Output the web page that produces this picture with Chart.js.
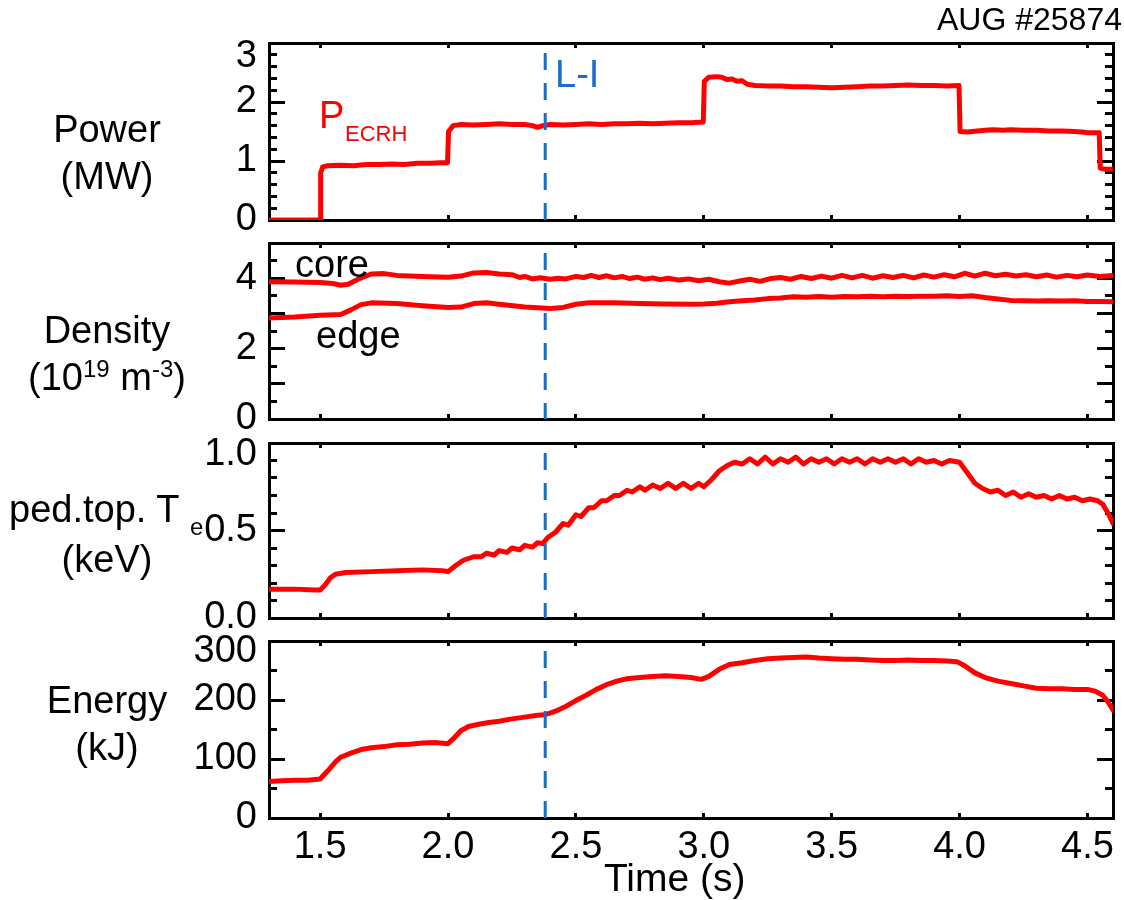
<!DOCTYPE html>
<html>
<head>
<meta charset="utf-8">
<script src="https://cdn.jsdelivr.net/npm/chart.js@4.4.1/dist/chart.umd.min.js"></script>
<style>
  html, body { margin: 0; padding: 0; background: #ffffff; }
  #page { position: relative; width: 1124px; height: 900px; overflow: hidden; background: #ffffff;
          font-family: 'Liberation Sans', Arial, Helvetica, sans-serif; color: #000; }
  canvas { position: absolute; left: 0; }
  .t { position: absolute; white-space: nowrap; line-height: 1; }
  .ctr { left: 0; width: 214px; text-align: center; }
  .sup { position: relative; top: -13px; font-size: 24px; }
</style>
</head>
<body>
<div id="page">
  <canvas id="c1" width="1124" height="240" style="top:0px"></canvas>
  <canvas id="c2" width="1124" height="210" style="top:225px"></canvas>
  <canvas id="c3" width="1124" height="210" style="top:425px"></canvas>
  <canvas id="c4" width="1124" height="278" style="top:622px"></canvas>

  <div class="t" style="right:2px; top:3px; font-size:32px;">AUG #25874</div>
  <div class="t" style="left:555px; top:55px; font-size:38px; color:#1a6ec8;">L-I</div>
  <div class="t" style="left:319px; top:96px; font-size:38px; color:#ff0000;">P</div>
  <div class="t" style="left:345px; top:123px; font-size:22px; color:#ff0000;">ECRH</div>
  <div class="t" style="left:295px; top:245px; font-size:38px;">core</div>
  <div class="t" style="left:316px; top:316px; font-size:38px;">edge</div>

  <div class="t ctr" style="top:110px; font-size:38px;">Power</div>
  <div class="t ctr" style="top:157px; font-size:38px;">(MW)</div>
  <div class="t ctr" style="top:311px; font-size:38px;">Density</div>
  <div class="t ctr" style="top:358px; font-size:38px;">(10<span class="sup">19</span> m<span class="sup">-3</span>)</div>
  <div class="t" style="left:9px; top:490px; font-size:38px;">ped.top. T</div>
  <div class="t" style="left:190px; top:515px; font-size:24px;">e</div>
  <div class="t ctr" style="top:540px; font-size:38px;">(keV)</div>
  <div class="t ctr" style="top:681px; font-size:38px;">Energy</div>
  <div class="t ctr" style="top:728px; font-size:38px;">(kJ)</div>
</div>
<script>
// ---------------- data ----------------
const xMin = 1.3, xMax = 4.6;
const xTickStep = 0.5;
const transitionTime = 2.38;   // L-I transition (s)

const powerTime = [1.30,1.50,1.502,1.51,1.53,1.58,1.63,1.68,1.73,1.78,1.83,1.88,1.93,1.97,1.998,
  2.002,2.02,2.05,2.10,2.15,2.20,2.25,2.30,2.33,2.35,2.37,2.40,2.45,2.50,2.55,2.60,2.65,2.70,2.75,2.80,
  2.85,2.90,2.95,2.998,3.002,3.02,3.05,3.07,3.09,3.11,3.13,3.15,3.17,3.20,3.25,3.30,3.35,3.40,3.45,3.50,
  3.55,3.60,3.65,3.70,3.75,3.80,3.85,3.90,3.95,3.998,4.002,4.03,4.07,4.10,4.13,4.17,4.20,4.25,4.30,4.35,
  4.40,4.45,4.48,4.50,4.546,4.550,4.57,4.60];
const powerMW = [0.00,0.00,0.80,0.90,0.92,0.93,0.92,0.94,0.94,0.95,0.94,0.96,0.96,0.97,0.97,
  1.50,1.60,1.62,1.61,1.62,1.63,1.62,1.62,1.60,1.57,1.60,1.62,1.61,1.62,1.63,1.62,1.63,1.63,1.64,1.63,
  1.64,1.65,1.65,1.66,2.35,2.42,2.43,2.42,2.38,2.39,2.35,2.36,2.30,2.28,2.27,2.27,2.26,2.26,2.25,2.24,
  2.25,2.26,2.27,2.27,2.28,2.29,2.28,2.28,2.27,2.28,1.50,1.49,1.51,1.52,1.53,1.52,1.53,1.52,1.52,1.51,
  1.51,1.50,1.49,1.48,1.48,0.88,0.86,0.86];

const coreTime = [1.30,1.40,1.50,1.55,1.58,1.61,1.65,1.70,1.75,1.80,1.90,2.00,2.05,2.10,2.15,2.20,2.25,2.28,
  2.30,2.33,2.36,2.40,2.43,2.46,2.50,2.53,2.56,2.59,2.62,2.65,2.68,2.71,2.74,2.77,2.80,2.83,2.86,2.90,2.94,
  2.98,3.02,3.06,3.10,3.14,3.18,3.22,3.26,3.30,3.34,3.38,3.42,3.46,3.50,3.54,3.58,3.62,3.66,3.70,3.74,3.78,
  3.82,3.86,3.90,3.94,3.98,4.02,4.06,4.10,4.14,4.18,4.22,4.26,4.30,4.34,4.38,4.42,4.46,4.50,4.55,4.60];
const coreDensity = [3.90,3.89,3.88,3.85,3.80,3.83,3.98,4.12,4.13,4.08,4.05,4.03,4.06,4.15,4.16,4.12,4.10,4.02,
  4.05,3.98,4.01,3.97,4.00,3.98,4.05,4.02,4.08,4.02,4.07,4.01,4.05,3.99,4.03,3.97,4.01,3.96,4.00,3.95,3.98,
  3.93,3.97,3.90,3.86,3.92,3.97,3.91,3.99,4.02,3.97,4.05,3.99,4.06,4.00,4.08,4.01,4.08,4.00,4.07,4.02,4.08,
  4.01,4.09,4.03,4.10,4.04,4.14,4.06,4.14,4.07,4.11,4.06,4.10,4.04,4.09,4.03,4.08,4.04,4.09,4.05,4.08];

const edgeTime = [1.30,1.40,1.50,1.58,1.62,1.66,1.70,1.80,1.90,2.00,2.05,2.10,2.15,2.20,2.30,2.40,2.45,2.50,
  2.55,2.65,2.75,2.85,2.95,3.00,3.05,3.10,3.15,3.20,3.25,3.30,3.35,3.40,3.45,3.50,3.55,3.60,3.65,3.70,3.75,
  3.80,3.85,3.90,3.95,4.00,4.05,4.10,4.15,4.20,4.25,4.30,4.35,4.40,4.45,4.50,4.55,4.60];
const edgeDensity = [2.87,2.90,2.95,2.97,3.10,3.25,3.30,3.28,3.22,3.17,3.18,3.28,3.30,3.26,3.18,3.14,3.17,3.26,
  3.30,3.30,3.28,3.27,3.26,3.27,3.29,3.33,3.36,3.38,3.42,3.44,3.47,3.46,3.48,3.46,3.48,3.47,3.49,3.47,3.49,
  3.48,3.49,3.49,3.50,3.48,3.50,3.45,3.41,3.37,3.36,3.35,3.36,3.35,3.36,3.34,3.34,3.33];

const teTime = [1.30,1.40,1.48,1.50,1.52,1.54,1.56,1.60,1.70,1.80,1.90,1.98,2.00,2.03,2.06,2.10,2.13,2.15,2.18,
  2.20,2.23,2.25,2.28,2.30,2.33,2.35,2.37,2.39,2.42,2.45,2.47,2.50,2.52,2.55,2.57,2.60,2.62,2.65,2.67,2.70,
  2.72,2.75,2.77,2.80,2.83,2.86,2.89,2.92,2.95,2.98,3.00,3.03,3.06,3.09,3.12,3.15,3.18,3.21,3.24,3.27,3.30,
  3.33,3.36,3.39,3.42,3.45,3.48,3.51,3.54,3.57,3.60,3.63,3.66,3.69,3.72,3.75,3.78,3.81,3.84,3.87,3.90,3.93,
  3.96,4.00,4.03,4.06,4.09,4.12,4.15,4.18,4.21,4.24,4.27,4.30,4.33,4.36,4.39,4.42,4.45,4.48,4.51,4.54,4.56,
  4.58,4.60];
const teKeV = [0.165,0.165,0.16,0.16,0.19,0.23,0.25,0.26,0.265,0.27,0.275,0.27,0.265,0.30,0.33,0.35,0.35,0.37,0.36,
  0.385,0.375,0.40,0.39,0.415,0.405,0.43,0.425,0.46,0.49,0.54,0.53,0.59,0.58,0.63,0.63,0.67,0.67,0.70,0.70,0.73,
  0.72,0.75,0.73,0.76,0.74,0.77,0.74,0.77,0.74,0.77,0.75,0.79,0.84,0.87,0.89,0.88,0.91,0.88,0.92,0.88,0.91,
  0.89,0.92,0.88,0.91,0.89,0.91,0.88,0.91,0.89,0.91,0.88,0.91,0.89,0.91,0.89,0.91,0.88,0.91,0.89,0.90,0.88,
  0.90,0.89,0.83,0.77,0.74,0.72,0.73,0.70,0.72,0.69,0.71,0.69,0.70,0.68,0.70,0.68,0.69,0.67,0.68,0.67,0.65,
  0.60,0.54];

const energyTime = [1.30,1.35,1.40,1.45,1.50,1.53,1.56,1.58,1.62,1.66,1.70,1.75,1.80,1.85,1.90,1.95,2.00,2.02,
  2.05,2.08,2.12,2.16,2.20,2.25,2.30,2.35,2.38,2.42,2.46,2.50,2.54,2.58,2.62,2.66,2.70,2.75,2.80,2.85,2.90,
  2.95,2.99,3.02,3.06,3.10,3.15,3.20,3.25,3.30,3.35,3.40,3.45,3.50,3.55,3.60,3.65,3.70,3.75,3.80,3.85,3.90,
  3.95,3.99,4.02,4.06,4.10,4.15,4.20,4.25,4.30,4.35,4.40,4.45,4.50,4.53,4.56,4.58,4.60];
const energyKJ = [62,63,64,64,66,80,95,103,110,116,119,121,124,125,127,128,126,134,
  148,155,159,162,164,168,171,174,175,181,189,199,208,218,226,232,236,238,240,241,240,
  238,235,240,252,260,263,267,270,271,272,273,271,270,269,269,268,267,267,268,267,267,
  266,265,258,246,238,232,228,224,220,219,219,218,218,215,208,197,183];

// tick label texts per panel
const powerTickLabels  = {0:'0', 1:'1', 2:'2', 3:'3'};
const densityTickLabels = {0:'0', 2:'2', 4:'4'};
const teTickLabels     = {0:'0.0', 0.5:'0.5', 1:'1.0'};
const energyTickLabels = {0:'0', 100:'100', 200:'200', 300:'300'};

// ---------------- drawing ----------------
const FONT = "'Liberation Sans', Arial, Helvetica, sans-serif";
const RED = '#ff0000';
const BLUE = '#1a6ec8';

function toPoints(ts, vs) {
  const n = Math.min(ts.length, vs.length);
  const out = [];
  for (let i = 0; i < n; i++) out.push({ x: ts[i], y: vs[i] });
  return out;
}
const tickMarks = (len) => ({ drawOnChartArea: false, drawTicks: true, tickLength: len, tickWidth: 3, tickColor: '#000' });
const frame = { display: true, color: '#000', width: 3 };
const noFrame = { display: false };

function labelFor(map, v) {
  for (const k in map) { if (Math.abs(Number(k) - v) < 1e-9) return map[k]; }
  return '';
}
function fitV(width) {
  return (s) => { s.width = width; s.paddingTop = 0; s.paddingBottom = 0; s.paddingLeft = 0; s.paddingRight = 0; };
}
function fitH(height) {
  return (s) => { s.height = height; s.paddingTop = 0; s.paddingBottom = 0; s.paddingLeft = 0; s.paddingRight = 0; };
}

function makePanel(cfg) {
  const yMin = cfg.yMin, yMax = cfg.yMax;
  const isTop = (v) => Math.abs(v - yMax) < 1e-9;
  const datasets = [
    { label: 'L-I', data: [{ x: transitionTime, y: yMax }, { x: transitionTime, y: yMin }],
      borderColor: BLUE, borderWidth: 3, borderDash: [17, 13], borderDashOffset: 20,
      pointRadius: 0, fill: false, tension: 0 }
  ].concat(cfg.series.map(s => ({
      label: s.label, data: toPoints(s.t, s.v), borderColor: RED, borderWidth: 5,
      pointRadius: 0, fill: false, tension: 0, borderJoinStyle: 'round', borderCapStyle: 'round' })));

  const xTitle = cfg.showX
    ? { display: true, text: 'Time (s)   ', color: '#000', font: { family: FONT, size: 39, lineHeight: 1 }, padding: 0 }
    : { display: false };

  new Chart(document.getElementById(cfg.canvas), {
    type: 'line',
    data: { datasets },
    options: {
      responsive: false, animation: false, devicePixelRatio: 1,
      layout: { padding: { left: 0, right: 11, top: cfg.padTop, bottom: cfg.padBottom } },
      plugins: { legend: { display: false }, tooltip: { enabled: false }, title: { display: false } },
      elements: { point: { radius: 0 } },
      scales: {
        x: { type: 'linear', position: 'bottom', min: xMin, max: xMax, weight: 1,
             ticks: { stepSize: xTickStep, includeBounds: false, autoSkip: false, maxRotation: 0, minRotation: 0,
                      display: cfg.showX, padding: 12, color: '#000',
                      font: { family: FONT, size: 38, lineHeight: 1.2 },
                      callback: (v) => Number(v).toFixed(1) },
             grid: tickMarks(-5), border: frame, title: xTitle,
             afterFit: fitH(cfg.xAxisHeight) },
        xt: { type: 'linear', position: 'top', min: xMin, max: xMax, weight: 1,
             ticks: { stepSize: xTickStep, includeBounds: false, autoSkip: false, display: false },
             grid: tickMarks(-5), border: frame,
             afterFit: fitH(0) },
        y: { type: 'linear', position: 'left', min: yMin, max: yMax, weight: 1,
             ticks: { stepSize: cfg.major, autoSkip: false, padding: 28, color: '#000',
                      font: (ctx) => ({ family: FONT, size: 38,
                        lineHeight: (ctx.tick && isTop(ctx.tick.value)) ? (2 * cfg.topShift) + 'px' : 1.2 }),
                      callback: (v) => { const s = labelFor(cfg.labels, v); return (isTop(v) && s) ? ['', s] : s; } },
             grid: tickMarks(-16), border: frame,
             afterFit: fitV(269) },
        ym: { type: 'linear', position: 'left', min: yMin, max: yMax, weight: 0,
             ticks: { stepSize: cfg.minor, autoSkip: false, display: false },
             grid: tickMarks(-8), border: noFrame,
             afterFit: fitV(0) },
        yr: { type: 'linear', position: 'right', min: yMin, max: yMax, weight: 0,
             ticks: { stepSize: cfg.major, autoSkip: false, display: false },
             grid: tickMarks(-16), border: frame,
             afterFit: fitV(0) },
        yrm: { type: 'linear', position: 'right', min: yMin, max: yMax, weight: 1,
             ticks: { stepSize: cfg.minor, autoSkip: false, display: false },
             grid: tickMarks(-8), border: noFrame,
             afterFit: fitV(0) }
      }
    }
  });
}

makePanel({ canvas: 'c1', padTop: 43, padBottom: 20, xAxisHeight: 0, showX: false,
  yMin: 0, yMax: 3, major: 1, minor: 0.2, topShift: 14, labels: powerTickLabels,
  series: [{ label: 'P_ECRH', t: powerTime, v: powerMW }] });

makePanel({ canvas: 'c2', padTop: 18, padBottom: 16, xAxisHeight: 0, showX: false,
  yMin: 0, yMax: 5, major: 1, minor: 0.5, topShift: 14, labels: densityTickLabels,
  series: [{ label: 'core', t: coreTime, v: coreDensity }, { label: 'edge', t: edgeTime, v: edgeDensity }] });

makePanel({ canvas: 'c3', padTop: 18, padBottom: 17, xAxisHeight: 0, showX: false,
  yMin: 0, yMax: 1, major: 0.5, minor: 0.1, topShift: 12, labels: teTickLabels,
  series: [{ label: 'ped.top. Te', t: teTime, v: teKeV }] });

makePanel({ canvas: 'c4', padTop: 19, padBottom: 0, xAxisHeight: 82, showX: true,
  yMin: 0, yMax: 300, major: 100, minor: 50, topShift: 11, labels: energyTickLabels,
  series: [{ label: 'Energy', t: energyTime, v: energyKJ }] });
</script>
</body>
</html>
